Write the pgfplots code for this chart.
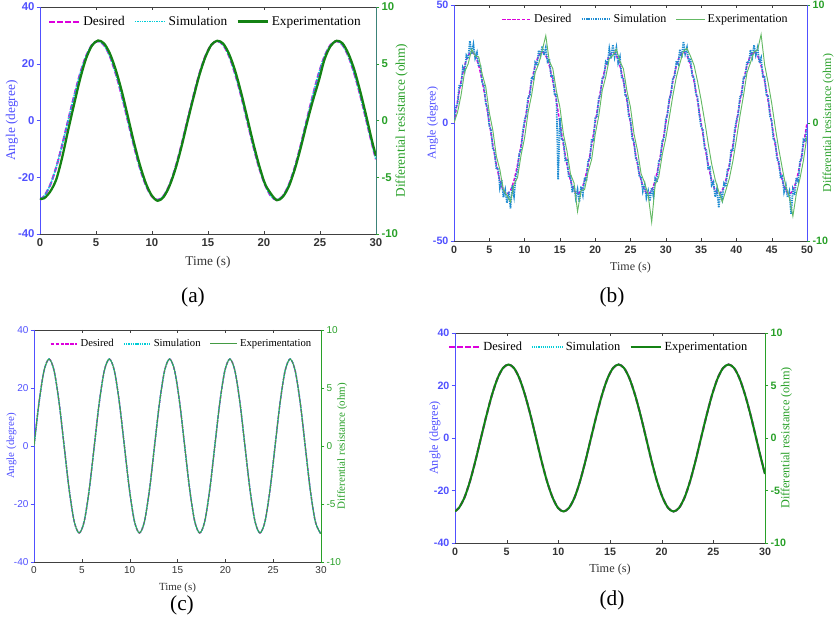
\documentclass[border=0pt]{standalone}
\usepackage{pgfplots}
\pgfplotsset{compat=1.18}
\usepackage{pgfplotstable}
\usepackage{fontspec}
\setmainfont{Liberation Serif}
\setsansfont{Liberation Sans}
\newcommand\fs[1]{\fontsize{#1}{#1}\selectfont}
\definecolor{axblue}{RGB}{80,80,255}
\definecolor{axgreen}{RGB}{40,160,40}
\definecolor{desmag}{RGB}{220,0,220}
\definecolor{simcyan}{RGB}{0,205,215}
\definecolor{simblue}{RGB}{30,140,210}
\definecolor{expgreen}{RGB}{20,130,20}
\definecolor{expgreenlt}{RGB}{100,185,100}
\definecolor{tealax}{RGB}{60,130,120}

\pgfplotstableread{
t des exp
0 -27.9 -27.6
0.38 -26.63 -27.4
0.92 -22.65 -25.0
1.45 -16.46 -20.8
1.98 -8.65 -13.0
2.51 0 -3.5
3.05 8.65 5.8
3.58 16.46 14.6
4.11 22.65 21.8
4.64 26.63 26.4
5.18 28 28.2
5.71 26.63 27.2
6.24 22.65 23.6
6.77 16.46 17.8
7.31 8.65 10.2
7.84 0 1.5
8.37 -8.65 -7.4
8.90 -16.46 -15.4
9.44 -22.65 -22.0
9.97 -26.63 -26.4
10.50 -28 -28.3
11.03 -26.63 -27.0
11.57 -22.65 -23.0
12.10 -16.46 -17.0
12.63 -8.65 -9.3
13.16 0 -0.6
13.70 8.65 8.0
14.23 16.46 16.0
14.76 22.65 22.3
15.29 26.63 26.6
15.83 28 28.1
16.36 26.63 27.1
16.89 22.65 23.4
17.42 16.46 17.6
17.96 8.65 9.8
18.49 0 1.2
19.02 -8.65 -7.6
19.55 -16.46 -15.6
20.09 -22.65 -22.3
20.62 -26.63 -25.8
21.15 -28 -28.1
21.68 -26.63 -26.9
22.22 -22.65 -23.2
22.75 -16.46 -17.2
23.28 -8.65 -9.6
23.81 0 -1.2
24.35 8.65 6.8
24.88 16.46 13.8
25.41 22.65 21.6
25.94 26.63 26.2
26.48 28 28.1
27.01 26.63 27.2
27.54 22.65 23.5
28.07 16.46 17.8
28.61 8.65 10.0
29.14 0 1.4
29.67 -8.65 -7.6
30 -13.7 -12.5
}\tabA

\pgfplotstableread{
t y
0 0
0.5 9.27
1 17.63
1.5 24.27
2 28.53
2.5 30
3 28.53
3.5 24.27
4 17.63
4.5 9.27
5 0
5.5 -9.27
6 -17.63
6.5 -24.27
7 -28.53
7.5 -30
8 -28.53
8.5 -24.27
9 -17.63
9.5 -9.27
10 0
10.5 9.27
11 17.63
11.5 24.27
12 28.53
12.5 30
13 28.53
13.5 24.27
14 17.63
14.5 9.27
15 0
15.5 -9.27
16 -17.63
16.5 -24.27
17 -28.53
17.5 -30
18 -28.53
18.5 -24.27
19 -17.63
19.5 -9.27
20 0
20.5 9.27
21 17.63
21.5 24.27
22 28.53
22.5 30
23 28.53
23.5 24.27
24 17.63
24.5 9.27
25 0
25.5 -9.27
26 -17.63
26.5 -24.27
27 -28.53
27.5 -30
28 -28.53
28.5 -24.27
29 -17.63
29.5 -9.27
30 0
30.5 9.27
31 17.63
31.5 24.27
32 28.53
32.5 30
33 28.53
33.5 24.27
34 17.63
34.5 9.27
35 0
35.5 -9.27
36 -17.63
36.5 -24.27
37 -28.53
37.5 -30
38 -28.53
38.5 -24.27
39 -17.63
39.5 -9.27
40 0
40.5 9.27
41 17.63
41.5 24.27
42 28.53
42.5 30
43 28.53
43.5 24.27
44 17.63
44.5 9.27
45 0
45.5 -9.27
46 -17.63
46.5 -24.27
47 -28.53
47.5 -30
48 -28.53
48.5 -24.27
49 -17.63
49.5 -9.27
50 0
}\tabBdes

\pgfplotstableread{
t y
0.00 0.5
0.25 6.8
0.50 8.1
0.75 16.2
1.00 15.4
1.25 23.5
1.50 21.9
1.75 28.6
2.00 27.2
2.25 34.8
2.50 29.1
2.75 33.2
3.00 27.5
3.25 29.8
3.50 23.9
3.75 24.6
4.00 16.8
4.25 15.9
4.50 8.4
4.75 6.1
5.00 -1.2
5.25 -3.0
5.50 -10.8
5.75 -12.1
6.00 -19.6
6.25 -19.0
6.50 -27.4
6.75 -24.2
7.00 -31.5
7.25 -28.3
7.50 -33.9
7.75 -29.1
8.00 -36.2
8.25 -26.4
8.50 -31.0
8.75 -22.8
9.00 -20.1
9.25 -13.0
9.50 -11.2
9.75 -3.6
10.00 1.2
10.25 3.5
10.50 11.0
10.75 11.9
11.00 19.5
11.25 18.7
11.50 25.6
11.75 24.3
12.00 30.8
12.25 28.4
12.50 32.6
12.75 28.7
13.00 31.9
13.25 26.0
13.50 27.1
13.75 19.8
14.00 19.9
14.25 11.7
14.50 12.4
14.75 -24.0
15.00 2.1
15.25 -6.9
15.50 -7.4
15.75 -15.8
16.00 -15.6
16.25 -23.0
16.50 -22.1
16.75 -29.4
17.00 -26.5
17.25 -31.8
17.50 -28.2
17.75 -33.5
18.00 -26.9
18.25 -30.4
18.50 -23.1
18.75 -24.6
19.00 -15.9
19.25 -15.0
19.50 -6.8
19.75 -7.3
20.00 2.0
20.25 2.9
20.50 10.6
20.75 11.8
21.00 18.9
21.25 19.6
21.50 26.0
21.75 25.1
22.00 31.5
22.25 27.3
22.50 33.2
22.75 28.0
23.00 31.9
23.25 25.4
23.50 28.0
23.75 19.3
24.00 19.1
24.25 11.8
24.50 11.0
24.75 2.9
25.00 1.3
25.25 -7.0
25.50 -7.6
25.75 -15.2
26.00 -16.4
26.25 -22.8
26.50 -22.6
26.75 -28.9
27.00 -26.1
27.25 -31.7
27.50 -28.8
27.75 -33.1
28.00 -27.4
28.25 -30.9
28.50 -23.5
28.75 -25.0
29.00 -16.3
29.25 -15.1
29.50 -7.4
29.75 -6.5
30.00 1.4
30.25 3.8
30.50 10.2
30.75 12.5
31.00 19.0
31.25 19.8
31.50 26.3
31.75 25.0
32.00 31.2
32.25 27.6
32.50 34.5
32.75 29.3
33.00 32.0
33.25 25.7
33.50 27.4
33.75 20.0
34.00 19.2
34.25 12.3
34.50 11.0
34.75 3.4
35.00 -1.5
35.25 -2.9
35.50 -10.7
35.75 -11.6
36.00 -19.2
36.25 -18.7
36.50 -26.3
36.75 -24.9
37.00 -31.4
37.25 -28.0
37.50 -35.9
37.75 -29.1
38.00 -32.2
38.25 -25.6
38.50 -27.0
38.75 -19.7
39.00 -19.2
39.25 -11.3
39.50 -11.5
39.75 -3.0
40.00 1.0
40.25 3.6
40.50 10.9
40.75 12.0
41.00 19.3
41.25 19.4
41.50 26.1
41.75 25.3
42.00 31.0
42.25 27.9
42.50 33.0
42.75 28.8
43.00 31.8
43.25 25.5
43.50 27.6
43.75 19.6
44.00 19.5
44.25 11.9
44.50 11.3
44.75 3.0
45.00 1.0
45.25 -7.2
45.50 -7.5
45.75 -15.5
46.00 -16.1
46.25 -22.9
46.50 -22.4
46.75 -29.2
47.00 -26.3
47.25 -31.5
47.50 -29.0
47.75 -38.5
48.00 -28.1
48.25 -30.6
48.50 -23.2
48.75 -24.8
49.00 -16.0
49.25 -15.2
49.50 -7.0
49.75 -7.5
50.00 -2.0
}\tabBsim

\pgfplotstableread{
t y
0.0 0.0
0.5 4.5
1.0 11.8
1.5 21.6
2.0 25.0
2.5 31.2
3.0 28.4
3.5 28.0
4.0 20.6
4.5 15.3
5.0 4.4
5.5 -3.0
6.0 -14.1
6.5 -19.8
7.0 -28.5
7.5 -30.6
8.0 -33.4
8.5 -26.0
9.0 -23.1
9.5 -13.6
10.0 -6.3
10.5 4.6
11.0 11.9
11.5 21.4
12.0 25.1
12.5 30.8
13.0 37.0
13.5 26.2
14.0 23.0
14.5 13.6
15.0 6.7
15.5 -4.8
16.0 -11.9
16.5 -21.6
17.0 -25.4
17.5 -37.5
18.0 -28.6
18.5 -28.2
19.0 -20.7
19.5 -15.4
20.0 -4.8
20.5 2.9
21.0 13.8
21.5 19.6
22.0 27.3
22.5 28.6
23.0 31.2
23.5 26.2
24.0 22.9
24.5 13.5
25.0 6.6
25.5 -4.7
26.0 -11.8
26.5 -21.5
27.0 -25.3
27.5 -30.5
28.0 -42.0
28.5 -26.0
29.0 -22.9
29.5 -13.4
30.0 -6.5
30.5 2.4
31.0 11.6
31.5 19.5
32.0 25.3
32.5 30.4
33.0 31.6
33.5 28.3
34.0 24.5
34.5 17.6
35.0 9.8
35.5 1.0
36.0 -8.6
36.5 -17.4
37.0 -24.0
37.5 -29.0
38.0 -33.5
38.5 -28.6
39.0 -23.5
39.5 -16.2
40.0 -7.0
40.5 2.9
41.0 11.5
41.5 21.3
42.0 25.6
42.5 30.2
43.0 30.9
43.5 37.5
44.0 24.6
44.5 17.0
45.0 8.4
45.5 -1.8
46.0 -11.0
46.5 -19.2
47.0 -26.8
47.5 -31.4
48.0 -39.5
48.5 -29.8
49.0 -23.6
49.5 -15.8
50.0 -5.5
}\tabBexp

\pgfplotstableread{
t y
0 0
0.525 15
1.05 25.98
1.575 30
2.1 25.98
2.625 15
3.15 0
3.675 -15
4.2 -25.98
4.725 -30
5.25 -25.98
5.775 -15
6.3 0
6.825 15
7.35 25.98
7.875 30
8.4 25.98
8.925 15
9.45 0
9.975 -15
10.5 -25.98
11.025 -30
11.55 -25.98
12.075 -15
12.6 0
13.125 15
13.65 25.98
14.175 30
14.7 25.98
15.225 15
15.75 0
16.275 -15
16.8 -25.98
17.325 -30
17.85 -25.98
18.375 -15
18.9 0
19.425 15
19.95 25.98
20.475 30
21.0 25.98
21.525 15
22.05 0
22.575 -15
23.1 -25.98
23.625 -30
24.15 -25.98
24.675 -15
25.2 0
25.725 15
26.25 25.98
26.775 30
27.3 25.98
27.825 15
28.35 0
28.875 -15
29.4 -25.98
29.925 -30
30 -29.9
}\tabC

\pgfplotsset{
  legimg/.style={legend image code/.code={\draw[##1] (0cm,0cm) -- (#1,0cm);}},
  leftax/.style={
    scale only axis, anchor=south west,
    enlargelimits=false,
    axis x line=box, axis y line*=left,
    separate axis lines,
    x axis line style={-,draw=black!75},
    y axis line style={-,draw=axblue},
    xtick align=inside, ytick align=outside,
    major tick length=2.5pt,
    xtick style={draw=black!75},
    ytick style={draw=axblue},
    xticklabel style={text=black!80},
    yticklabel style={text=axblue, inner sep=1.5pt},
    ylabel style={text=axblue},
    xlabel style={text=black!80},
    legend columns=3,
    legend cell align=left,
    legend style={draw=none, fill=none, anchor=north east,
      /tikz/every even column/.append style={column sep=5pt}},
  },
  rightax/.style={
    scale only axis, anchor=south west,
    enlargelimits=false,
    axis x line=none, axis y line*=right,
    ytick align=outside,
    major tick length=2.5pt,
    ytick style={draw=axgreen},
    yticklabel style={text=axgreen, inner sep=1.5pt},
    ylabel style={text=axgreen},
    ylabel={Differential resistance (ohm)},
    ymin=-10, ymax=10,
  },
}

\begin{document}
\begin{tikzpicture}
\path[use as bounding box] (0pt,0pt) rectangle (630pt,467.25pt);

% ---------------- (a)
\begin{axis}[leftax, legimg=0.8cm, at={(30pt,291.75pt)}, width=252pt, height=170.25pt,
  xmin=0, xmax=30, ymin=-40, ymax=40,
  xtick={0,5,10,15,20,25,30}, xticklabels={0,5,10,15,20,25,30},
  ytick={-40,-20,0,20,40}, yticklabels={-40,-20,0,20,40},
  ticklabel style={font=\sffamily\bfseries\fs{8.5}},
  label style={font=\fs{10}},
  ylabel shift=-5pt,
  xlabel={Time (s)}, ylabel={Angle (degree)},
  legend style={at={(0.975,0.985)}, font=\fs{10}}]
\addplot[draw=desmag, line width=1.6pt, dash pattern=on 4pt off 2pt, smooth] table[x=t,y=des]{\tabA};
\addlegendentry{Desired}
\addplot[draw=simcyan, line width=1.2pt, dash pattern=on 1pt off 0.8pt, smooth] table[x=t,y=des]{\tabA};
\addlegendentry{Simulation}
\addplot[draw=expgreen, line width=1.7pt, smooth] table[x=t,y=exp]{\tabA};
\addlegendentry{Experimentation}
\end{axis}
\begin{axis}[rightax, at={(30pt,291.75pt)}, width=252pt, height=170.25pt,
  xmin=0, xmax=30,
  ytick={-10,-5,0,5,10}, yticklabels={-10,-5,0,5,10},
  y axis line style={-,draw=tealax},
  ticklabel style={font=\sffamily\bfseries\fs{8.5}},
  ylabel shift=-7pt,
  label style={font=\fs{10}}]
\end{axis}
\node[font=\fs{16}] at (144.75pt,244.5pt) {(a)};

% ---------------- (b)
\begin{axis}[leftax, legimg=0.75cm, at={(340.5pt,286.5pt)}, width=264.75pt, height=177pt,
  xmin=0, xmax=50, ymin=-50, ymax=50,
  xtick={0,5,...,50}, xticklabels={0,5,10,15,20,25,30,35,40,45,50},
  ytick={-50,0,50}, yticklabels={-50,0,50},
  ticklabel style={font=\sffamily\bfseries\fs{8}},
  label style={font=\fs{9}},
  ylabel shift=-9pt,
  xlabel={Time (s)}, ylabel={Angle (degree)},
  legend style={at={(0.965,0.985)}, font=\fs{9}}]
\addplot[draw=desmag, line width=1.1pt, dash pattern=on 2.5pt off 1.2pt, smooth] table[x=t,y=y]{\tabBdes};
\addlegendentry{Desired}
\addplot[draw=simblue, line width=1.3pt, dash pattern=on 1pt off 0.7pt] table[x=t,y=y]{\tabBsim};
\addlegendentry{Simulation}
\addplot[draw=expgreenlt, line width=0.7pt] table[x=t,y=y]{\tabBexp};
\addlegendentry{Experimentation}
\end{axis}
\begin{axis}[rightax, at={(340.5pt,286.5pt)}, width=264.75pt, height=177pt,
  xmin=0, xmax=50,
  ytick={-10,0,10}, yticklabels={-10,0,10},
  y axis line style={-,draw=axblue},
  ticklabel style={font=\sffamily\bfseries\fs{8}},
  ylabel shift=-9pt,
  label style={font=\fs{9}}]
\end{axis}
\node[font=\fs{16}] at (459pt,244.5pt) {(b)};

% ---------------- (c)
\begin{axis}[leftax, legimg=0.7cm, at={(25.5pt,45.75pt)}, width=215.25pt, height=174pt,
  xmin=0, xmax=30, ymin=-40, ymax=40,
  xtick={0,5,10,15,20,25,30}, xticklabels={0,5,10,15,20,25,30},
  ytick={-40,-20,0,20,40}, yticklabels={-40,-20,0,20,40},
  ticklabel style={font=\sffamily\fs{7.5}},
  label style={font=\fs{8.2}},
  ylabel shift=-7pt,
  xlabel={Time (s)}, ylabel={Angle (degree)},
  legend style={at={(0.99,0.985)}, font=\fs{8}}]
\addplot[draw=desmag, line width=1.1pt, dash pattern=on 2.5pt off 1.2pt, smooth] table[x=t,y=y]{\tabC};
\addlegendentry{Desired}
\addplot[draw=simcyan, line width=1.1pt, dash pattern=on 1pt off 0.7pt, smooth] table[x=t,y=y]{\tabC};
\addlegendentry{Simulation}
\addplot[draw=expgreen!80, line width=0.7pt, smooth] table[x=t,y=y]{\tabC};
\addlegendentry{Experimentation}
\end{axis}
\begin{axis}[rightax, at={(25.5pt,45.75pt)}, width=215.25pt, height=174pt,
  xmin=0, xmax=30,
  ytick={-10,-5,0,5,10}, yticklabels={-10,-5,0,5,10},
  y axis line style={-,draw=axgreen},
  ticklabel style={font=\sffamily\fs{7.5}},
  ylabel shift=-8pt,
  label style={font=\fs{8.2}}]
\end{axis}
\node[font=\fs{16}] at (136.5pt,13.5pt) {(c)};

% ---------------- (d)
\begin{axis}[leftax, legimg=0.8cm, at={(341.25pt,60pt)}, width=232.5pt, height=157.5pt,
  xmin=0, xmax=30, ymin=-40, ymax=40,
  xtick={0,5,10,15,20,25,30}, xticklabels={0,5,10,15,20,25,30},
  ytick={-40,-20,0,20,40}, yticklabels={-40,-20,0,20,40},
  ticklabel style={font=\sffamily\bfseries\fs{8}},
  label style={font=\fs{9.2}},
  ylabel shift=-10pt,
  xlabel={Time (s)}, ylabel={Angle (degree)},
  legend style={at={(0.965,0.985)}, font=\fs{9.3}}]
\addplot[draw=desmag, line width=1.6pt, dash pattern=on 4pt off 2pt, smooth] table[x=t,y=des]{\tabA};
\addlegendentry{Desired}
\addplot[draw=simcyan, line width=1.1pt, dash pattern=on 0.8pt off 0.8pt, smooth] table[x=t,y=des]{\tabA};
\addlegendentry{Simulation}
\addplot[draw=expgreen, line width=1.5pt, smooth] table[x=t,y=des]{\tabA};
\addlegendentry{Experimentation}
\end{axis}
\begin{axis}[rightax, at={(341.25pt,60pt)}, width=232.5pt, height=157.5pt,
  xmin=0, xmax=30,
  ytick={-10,-5,0,5,10}, yticklabels={-10,-5,0,5,10},
  y axis line style={-,draw=axgreen},
  ticklabel style={font=\sffamily\bfseries\fs{8}},
  ylabel shift=-9pt,
  label style={font=\fs{9.2}}]
\end{axis}
\node[font=\fs{16}] at (459pt,17.25pt) {(d)};
\end{tikzpicture}
\end{document}
